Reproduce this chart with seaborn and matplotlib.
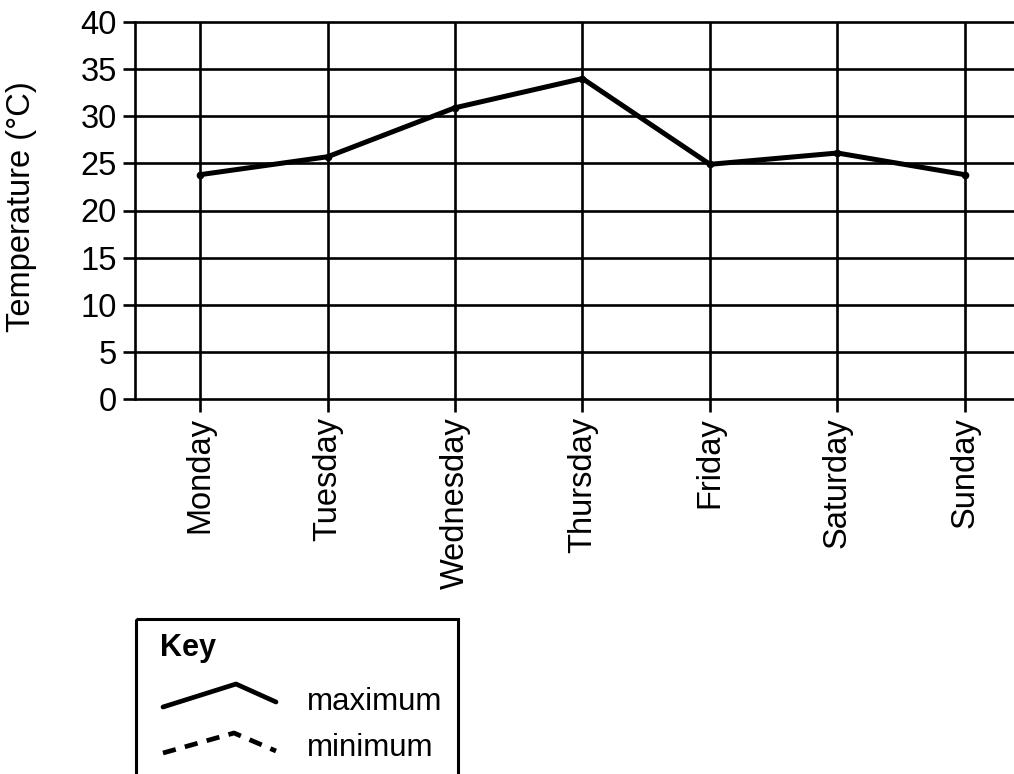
import pandas as pd
import numpy as np
import matplotlib.pyplot as plt
import seaborn as sns
from matplotlib.patches import Rectangle

days = ['Monday', 'Tuesday', 'Wednesday', 'Thursday', 'Friday', 'Saturday', 'Sunday']
max_temp = [23.8, 25.7, 30.9, 34.0, 24.9, 26.1, 23.8]
y_ticks = [0, 5, 10, 15, 20, 25, 30, 35, 40]

df = pd.DataFrame({'day': days, 'maximum': max_temp})

sns.set_style('white')
plt.rcParams['font.family'] = ['Liberation Sans', 'DejaVu Sans']
plt.rcParams['text.color'] = 'black'
plt.rcParams['axes.labelcolor'] = 'black'
plt.rcParams['xtick.color'] = 'black'
plt.rcParams['ytick.color'] = 'black'

fig = plt.figure(figsize=(10.14, 7.74), dpi=100)
ax = fig.add_axes([135/1014, (774-399)/774, 1 - 135/1014, (399-22)/774])

lw = 1.9
for t in y_ticks:
    ax.axhline(t, color='black', lw=lw, zorder=1, clip_on=False)
for i in range(len(days)):
    ax.axvline(i, color='black', lw=lw, zorder=1)

sns.lineplot(data=df, x='day', y='maximum', ax=ax, color='black', lw=3.6,
             marker='o', markersize=5.5, markeredgewidth=0, sort=False, zorder=3)

ax.set_xlim(-0.51, 6.385)
ax.set_ylim(0, 40)
ax.set_yticks(y_ticks)
ax.set_xticks(range(len(days)))
ax.set_xticklabels(days, rotation=90)
ax.tick_params(axis='both', length=9, width=lw, color='black', labelsize=23.5, pad=4,
               direction='out', labelcolor='black')
ax.tick_params(axis='x', bottom=True)
ax.tick_params(axis='y', left=True)
for s in ['top', 'right', 'bottom']:
    ax.spines[s].set_visible(False)
ax.spines['left'].set_linewidth(lw)
ax.spines['left'].set_color('black')
ax.set_xlabel('')
ax.set_ylabel('Temperature (°C)', fontsize=23.5, color='black')
ax.yaxis.set_label_coords(-0.112, 0.51)

# key box
kax = fig.add_axes([0, 0, 1, 1], facecolor='none')
kax.set_xlim(0, 1014)
kax.set_ylim(774, 0)
kax.axis('off')
kax.add_patch(Rectangle((136, 619), 322, 170, fill=False, lw=2.2, edgecolor='black'))
kax.text(160, 648, 'Key', fontsize=22, fontweight='bold', va='center', ha='left')
kax.plot([163, 236, 276], [707, 684, 702], color='black', lw=3.4)
kax.plot([163, 234, 276], [753, 733, 751], color='black', lw=3.4, ls=(0, (2.8, 2.0)))
kax.text(307, 702, 'maximum', fontsize=22.5, va='center', ha='left')
kax.text(307, 748, 'minimum', fontsize=22.5, va='center', ha='left')

fig.savefig('out.png', dpi=100)
